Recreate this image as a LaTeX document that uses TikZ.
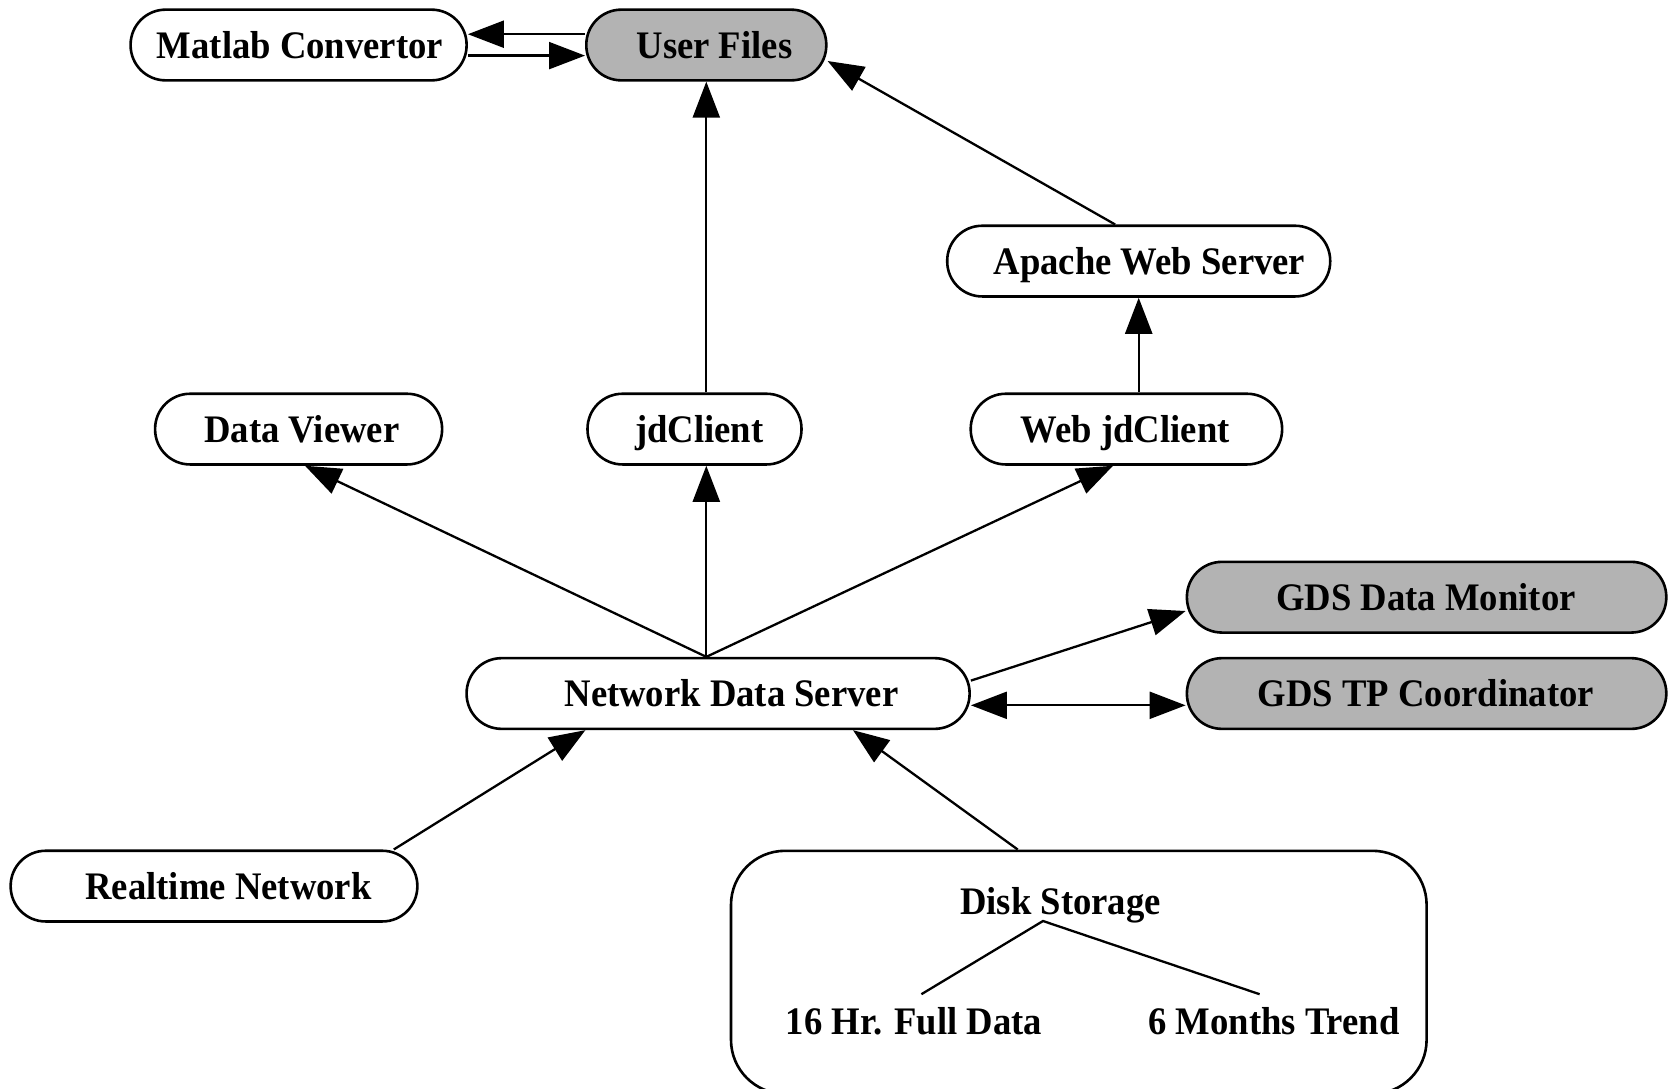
\documentclass[tikz,border=0pt]{standalone}
\usepackage{fontspec}
\setmainfont{Liberation Serif}[FakeStretch=0.94]
\usetikzlibrary{arrows.meta}
\definecolor{shade}{RGB}{179,179,179}
\begin{document}
\begin{tikzpicture}[x=1pt,y=-1pt,
  box/.style={draw, line width=2.6pt, rounded corners=35pt, minimum height=70.7pt, inner sep=0pt, fill=white},
  gbox/.style={box, fill=shade},
  lbl/.style={anchor=base, inner sep=0pt, font=\fontsize{39}{47}\selectfont\bfseries},
  conn/.style={line width=2.3pt, -{Triangle[length=36pt,width=27pt]}},
  plain/.style={line width=2.3pt},
  both/.style={line width=2.3pt, {Triangle[length=36pt,width=27pt]}-{Triangle[length=36pt,width=27pt]}}]
\useasboundingbox (0,0) rectangle (1678,1088);
\clip (0,0) rectangle (1678,1088);

% boxes
\node[box,  minimum width=336pt]   (mat) at (298.6,45)    {};
\node[gbox, minimum width=240pt]   (uf)  at (706.3,45)    {};
\node[box,  minimum width=383pt]   (ap)  at (1138.7,261.1){};
\node[box,  minimum width=287pt]   (dv)  at (298.6,429.1) {};
\node[box,  minimum width=214pt]   (jd)  at (694.5,429.1) {};
\node[box,  minimum width=311.4pt] (wj)  at (1126.4,429.1){};
\node[gbox, minimum width=479.4pt] (gm)  at (1426.6,597.2){};
\node[gbox, minimum width=479.4pt] (gt)  at (1426.6,693.5){};
\node[box,  minimum width=503pt]   (nds) at (718.1,693.5) {};
\node[box,  minimum width=406.7pt] (rt)  at (214,886.1)   {};
\node[box,  minimum width=695.6pt, minimum height=243pt, rounded corners=54pt] (disk) at (1078.8,972.3) {};

% labels
\node[lbl] (matT) at (299.9,58)   {Matlab Convertor};
\node[lbl] (ufT)  at (714.4,58)   {User Files};
\node[lbl] (apT)  at (1149.4,274) {Apache Web Server};
\node[lbl] (dvT)  at (301.8,442)  {Data Viewer};
\node[lbl] (jdT)  at (699.4,442)  {jdClient};
\node[lbl] (wjT)  at (1125.3,442) {Web jdClient};
\node[lbl] (gmT)  at (1426,610)   {GDS Data Monitor};
\node[lbl] (gtT)  at (1426,706)   {GDS TP Coordinator};
\node[lbl] (ndsT) at (731.5,706)  {Network Data Server};
\node[lbl] (rtT)  at (228.5,899)  {Realtime Network};
\node[lbl] (dsT)  at (1060.6,914) {Disk Storage};
\node[lbl] (fdT)  at (914,1034)   {16 Hr. Full Data};
\node[lbl] (trT)  at (1274,1034)  {6 Months Trend};

% storage tree
\coordinate (apex) at (1043,921);
\coordinate (fdTop) at (921.4,994.2);
\coordinate (trTop) at (1259.6,994.2);
\draw[plain] (fdTop) -- (apex) -- (trTop);

% connectors
\draw[conn] ([yshift=10.8pt]uf.west) -- ([yshift=10.8pt]mat.east);
\draw[conn] ([yshift=-10.6pt]mat.east) -- ([yshift=-10.6pt]uf.west);
\draw[conn] (jd.north -| uf.south) -- (uf.south);
\draw[conn] ([xshift=-23.6pt]ap.north) -- ([yshift=-16pt]uf.east);
\draw[conn] (wj.north -| ap.south) -- (ap.south);

\coordinate (hub) at ([xshift=-11.8pt]nds.north);
\draw[conn] (hub) -- ([xshift=6.4pt]dv.south);
\draw[conn] (hub) -- (hub |- jd.south);
\draw[conn] (hub) -- ([xshift=-13.4pt]wj.south);
\draw[conn] ([yshift=12.9pt]nds.east) -- ([yshift=-13.8pt]gm.west);
\draw[both] ([yshift=-11.8pt]nds.east) -- ([yshift=-11.8pt]gt.west);
\draw[conn] ([xshift=179.8pt]rt.north) -- ([xshift=-132.7pt]nds.south);
\draw[conn] ([xshift=-61.1pt]disk.north) -- ([xshift=134.9pt]nds.south);
\end{tikzpicture}
\end{document}
